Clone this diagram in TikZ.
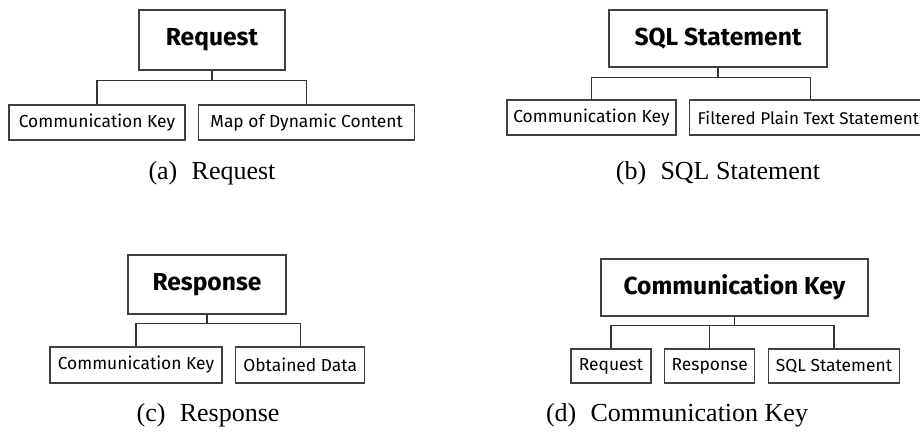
\documentclass[tikz,border=0pt]{standalone}
\usepackage{fontspec}
\setmainfont{Liberation Serif}
\newfontfamily\boxfont{Fira Sans}
\usetikzlibrary{positioning}

\begin{document}
\begin{tikzpicture}[
  x=0.5pt, y=-0.5pt,
  node distance=6.25pt,
  head/.style ={rectangle, draw=black!75, line width=0.6pt, inner sep=0pt,
                font=\boxfont\bfseries\fontsize{12.3}{14}\selectfont},
  field/.style={rectangle, draw=black!75, line width=0.6pt, inner sep=0pt,
                minimum height=17.5pt, font=\boxfont\fontsize{8.7}{10}\selectfont},
  link/.style ={draw=black!80, line width=0.6pt},
  subcap/.style={anchor=base, font=\fontsize{13}{15}\selectfont},
]
\useasboundingbox (0,0) rectangle (920,432);

% ---------------- (a) request ----------------
\node[head, minimum width=73pt, minimum height=30pt] (req) at (212,40) {Request};
\node[field, minimum width=88pt] (reqkey) at (97,122.5) {Communication Key};
\node[field, minimum width=108pt, right=of reqkey] (reqmap) {Map of Dynamic Content};
\foreach \c in {reqkey,reqmap}
  \draw[link] (req.south) -- ++(0,10) -| (\c.north);
\node[subcap] (capa) at (212,180) {(a)\hspace{0.55em}Request};

% ---------------- (b) sql statement ----------------
\node[head, minimum width=109pt, minimum height=28.5pt] (sql) at (718,38.5) {SQL Statement};
\node[field, minimum width=84.5pt] (sqlkey) at (591.5,117.5) {Communication Key};
\node[field, inner xsep=4pt, text width=113pt, align=flush left, font=\boxfont\fontsize{8.5}{10}\selectfont,
      right=of sqlkey] (sqltext) {Filtered Plain Text Statement};
\foreach \c in {sqlkey,sqltext}
  \draw[link] (sql.south) -- ++(0,10) -| (\c.north);
\node[subcap] (capb) at (718,180) {(b)\hspace{0.55em}SQL Statement};

% ---------------- (c) response ----------------
\node[head, minimum width=79pt, minimum height=29.5pt] (resp) at (207,284.5) {Response};
\node[field, minimum width=86pt, minimum height=18pt] (respkey) at (136,365) {Communication Key};
\node[field, minimum width=64.5pt, minimum height=18pt, right=of respkey] (respdata) {Obtained Data};
\foreach \c in {respkey,respdata}
  \draw[link] (resp.south) -- ++(0,9) -| (\c.north);
\node[subcap] (capc) at (208,422) {(c)\hspace{0.55em}Response};

% ---------------- (d) communication key ----------------
\node[head, minimum width=133.5pt, minimum height=28.5pt] (key) at (734.5,287.5) {Communication Key};
\node[field, minimum width=40pt, minimum height=17pt] (keyreq) at (611,366) {Request};
\node[field, minimum width=45pt, minimum height=17pt, right=of keyreq] (keyresp) {Response};
\node[field, minimum width=65.5pt, minimum height=17pt, right=of keyresp] (keysql) {SQL Statement};
\foreach \c in {keyreq,keyresp,keysql}
  \draw[link] (key.south) -- ++(0,9) -| (\c.north);
\node[subcap] (capd) at (677,422) {(d)\hspace{0.55em}Communication Key};

\end{tikzpicture}
\end{document}
